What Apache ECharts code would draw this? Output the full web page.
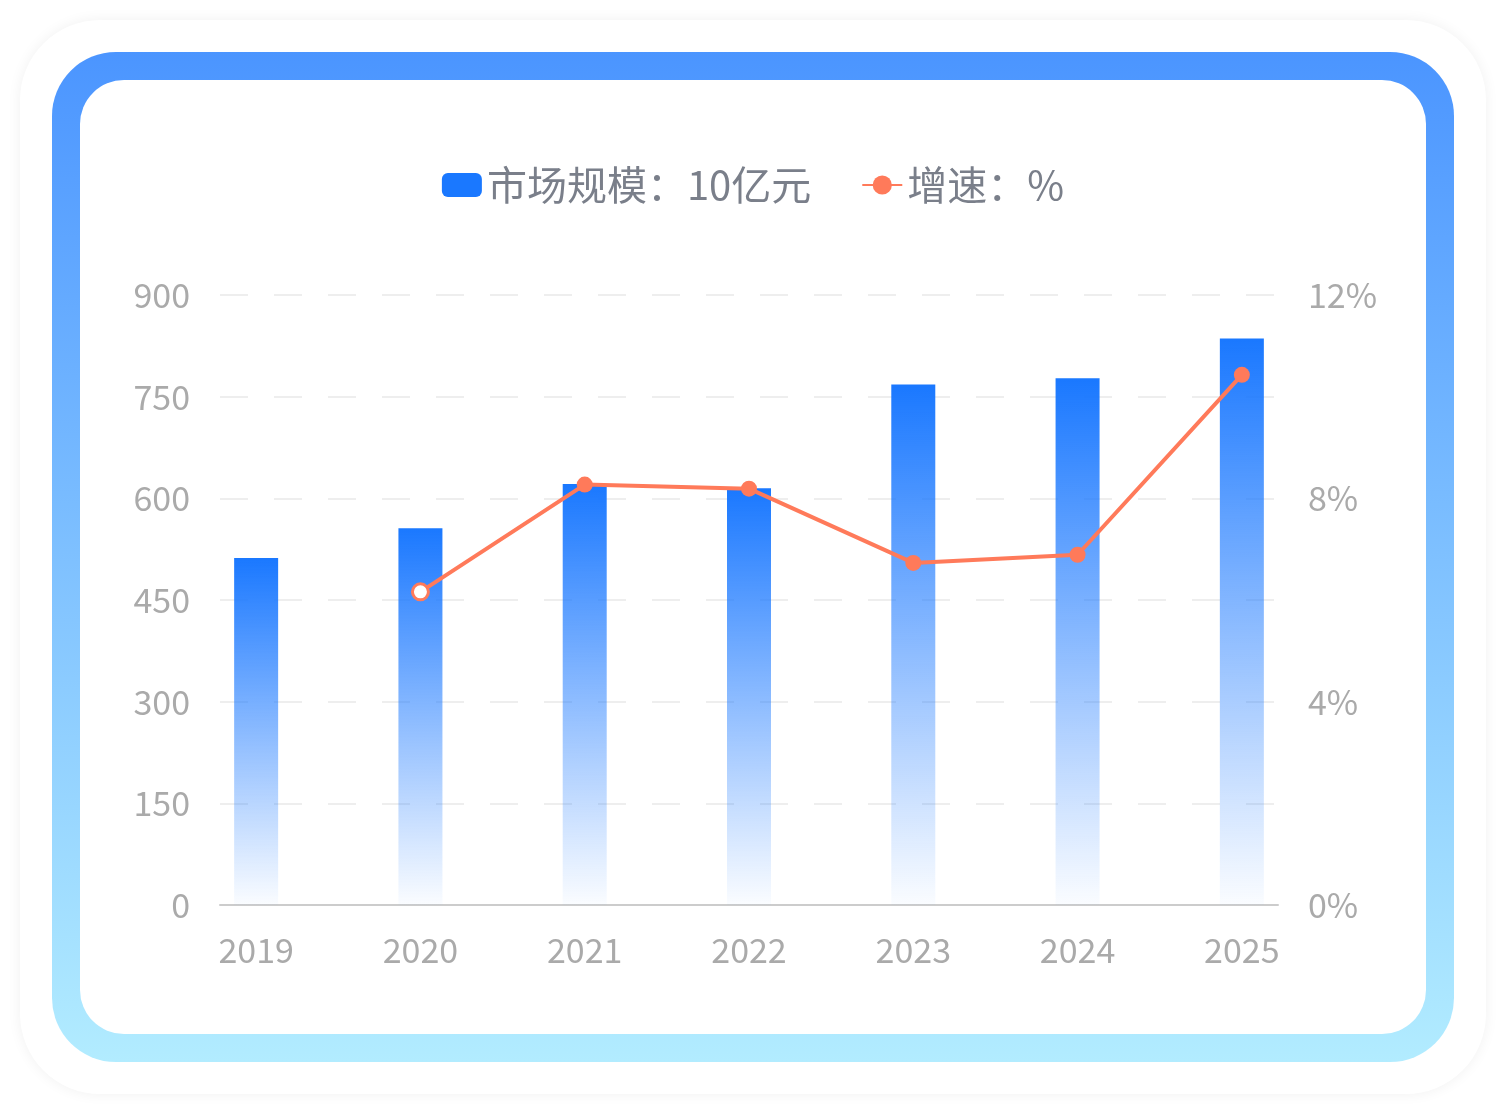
<!DOCTYPE html>
<html><head><meta charset="utf-8">
<script src="https://cdn.jsdelivr.net/npm/echarts@6/dist/echarts.min.js"></script>
<style>
body{margin:0;background:#fff;}
#card{position:absolute;left:20px;top:20px;width:1466px;height:1074px;border-radius:80px;background:#fff;box-shadow:0 0 14px rgba(0,0,0,0.06);}
#frame{position:absolute;left:52px;top:52px;width:1402px;height:1010px;border-radius:64px;background:linear-gradient(#4b95ff,#b2ecff);}
#inner{position:absolute;left:80px;top:80px;width:1346px;height:954px;border-radius:44px;background:#fff;}
#echartsShow{position:absolute;left:0;top:0;width:1506px;height:1114px;}
</style></head><body>
<div id="card"></div><div id="frame"></div><div id="inner"></div>
<div id="echartsShow"></div>
<script>
var years = ['2019','2020','2021','2022','2023','2024','2025'];
var marketSize = [512, 556, 621, 615, 768, 777, 836];
var growth = [null, 6.16, 8.27, 8.19, 6.73, 6.89, 10.43];

var echartsShow = echarts.init(document.getElementById('echartsShow'));
var font = 'Noto Sans CJK SC';
option = {
    textStyle: {fontFamily: font},
    legend: {
        top: 160,
        itemGap: 50,
        itemWidth: 40,
        itemHeight: 24,
        textStyle: {fontSize: 40, color: '#7a7f8a', fontFamily: font},
        data: [
            {name: '市场规模：10亿元', icon: 'roundRect', itemStyle: {color: '#1a78ff'}},
            {name: '增速：%'}
        ]
    },
    grid: {left: 220, right: 228, top: 295, bottom: 209},
    xAxis: {
        type: 'value',
        min: -0.22,
        max: 6.22,
        splitLine: {show: false},
        axisTick: {show: false},
        axisLine: {show: true, lineStyle: {color: '#ccc', width: 2}},
        axisLabel: {
            customValues: [0, 1, 2, 3, 4, 5, 6],
            formatter: function (v) { return years[Math.round(v)]; },
            color: '#aaa', fontSize: 34, margin: 28, fontFamily: font
        }
    },
    yAxis: [{
        type: 'value', min: 0, max: 900, interval: 150,
        axisLine: {show: false}, axisTick: {show: false},
        axisLabel: {color: '#aaa', fontSize: 34, margin: 30, fontFamily: font},
        splitLine: {lineStyle: {color: '#eee', type: [28, 26], width: 2}}
    }, {
        type: 'value', min: 0, max: 12, interval: 4,
        axisLine: {show: false}, axisTick: {show: false},
        axisLabel: {color: '#aaa', fontSize: 34, margin: 30, formatter: '{value}%', fontFamily: font},
        splitLine: {show: false}
    }],
    series: [{
        name: '市场规模：10亿元',
        type: 'bar',
        barWidth: 44,
        data: marketSize.map(function (v, i) { return [i, v]; }),
        itemStyle: {
            color: new echarts.graphic.LinearGradient(0, 0, 0, 1, [
                {offset: 0, color: '#1a78ff'},
                {offset: 1, color: 'rgba(26,120,255,0.02)'}
            ])
        }
    }, {
        name: '增速：%',
        type: 'line',
        yAxisIndex: 1,
        symbol: 'circle',
        symbolSize: 16,
        data: growth.map(function (v, i) {
            if (i === 1) return {value: [i, v], itemStyle: {color: '#fff', borderColor: '#ff7a5a', borderWidth: 3}};
            return [i, v];
        }),
        lineStyle: {color: '#ff7a5a', width: 4},
        itemStyle: {color: '#ff7a5a'}
    }]
};
echartsShow.setOption(option);
</script>
</body></html>
